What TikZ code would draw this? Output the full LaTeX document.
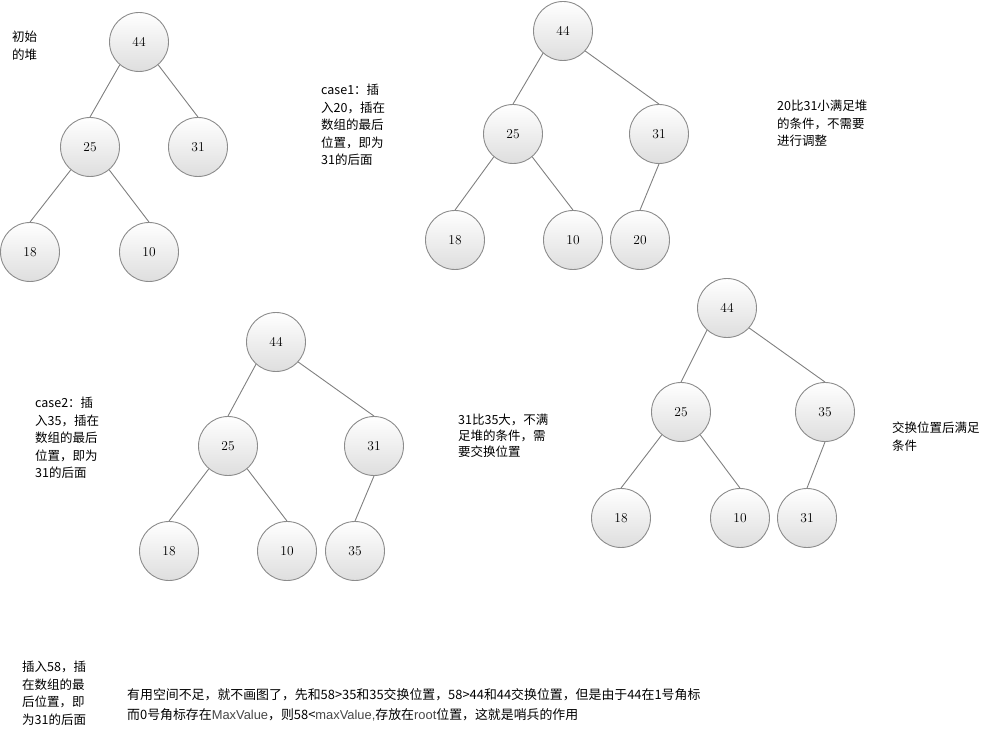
\documentclass[tikz,border=0pt]{standalone}
\usepackage{fontspec}
\newfontfamily\cjk{Noto Sans CJK SC}
\newfontfamily\lsans{Liberation Sans}
\definecolor{edgegray}{RGB}{128,128,128}
\definecolor{bordergray}{RGB}{140,140,140}
\definecolor{fillgray}{RGB}{222,222,222}
\definecolor{latgray}{RGB}{70,70,70}
\tikzset{
  hnode/.style={circle, minimum size=59pt, inner sep=0pt, draw=bordergray, line width=0.9pt,
    top color=white, bottom color=fillgray, font=\fontsize{13.5}{15}\selectfont},
  hedge/.style={draw=edgegray, line width=0.9pt},
  note/.style={anchor=north west, align=left, inner sep=0pt, font=\cjk\fontsize{12.5}{17.5}\selectfont},
}
\begin{document}
\begin{tikzpicture}[x=1pt,y=-1pt]
\useasboundingbox (0,0) rectangle (991,749);
% tree 1
\node[hnode] (a44) at (139,42) {44};
\node[hnode] (a25) at (90,147) {25};
\node[hnode] (a31) at (198,147) {31};
\node[hnode] (a18) at (30,252) {18};
\node[hnode] (a10) at (149,252) {10};
\draw[hedge] (a44.230) -- (a25.north);
\draw[hedge] (a44.310) -- (a31.north);
\draw[hedge] (a25.230) -- (a18.north);
\draw[hedge] (a25.310) -- (a10.north);
% tree 2
\node[hnode] (b44) at (563,31) {44};
\node[hnode] (b25) at (513,134) {25};
\node[hnode] (b31) at (659,134) {31};
\node[hnode] (b18) at (455,240) {18};
\node[hnode] (b10) at (573,240) {10};
\node[hnode] (b20) at (640,240) {20};
\draw[hedge] (b44.228) -- (b25.north);
\draw[hedge] (b44.318) -- (b31.north);
\draw[hedge] (b25.230) -- (b18.north);
\draw[hedge] (b25.310) -- (b10.north);
\draw[hedge] (b31.south) -- (b20.north);
% tree 3
\node[hnode] (c44) at (276,342) {44};
\node[hnode] (c25) at (228,446) {25};
\node[hnode] (c31) at (374,446) {31};
\node[hnode] (c18) at (169,551) {18};
\node[hnode] (c10) at (287,551) {10};
\node[hnode] (c35) at (355,551) {35};
\draw[hedge] (c44.228) -- (c25.north);
\draw[hedge] (c44.318) -- (c31.north);
\draw[hedge] (c25.230) -- (c18.north);
\draw[hedge] (c25.310) -- (c10.north);
\draw[hedge] (c31.south) -- (c35.north);
% tree 4
\node[hnode] (d44) at (727,308) {44};
\node[hnode] (d25) at (681,412) {25};
\node[hnode] (d35) at (825,412) {35};
\node[hnode] (d18) at (621,518) {18};
\node[hnode] (d10) at (740,518) {10};
\node[hnode] (d31) at (807,518) {31};
\draw[hedge] (d44.228) -- (d25.north);
\draw[hedge] (d44.318) -- (d35.north);
\draw[hedge] (d25.230) -- (d18.north);
\draw[hedge] (d25.310) -- (d10.north);
\draw[hedge] (d35.south) -- (d31.north);
% notes
\node[note] (n0) at (12,31) {初始\\的堆};
\node[note] (n1) at (321,84) {case1：插\\入20，插在\\数组的最后\\位置，即为\\31的后面};
\node[note] (n2) at (777,100) {20比31小满足堆\\的条件，不需要\\进行调整};
\node[note] (n3) at (35,397) {case2：插\\入35，插在\\数组的最后\\位置，即为\\31的后面};
\node[note, font=\cjk\fontsize{12.5}{16}\selectfont] (n4) at (458,414) {31比35大，不满\\足堆的条件，需\\要交换位置};
\node[note] (n5) at (892,422) {交换位置后满足\\条件};
\node[note] (n6) at (22,661) {插入58，插\\在数组的最\\后位置，即\\为31的后面};
\node[note, font=\cjk\fontsize{12.9}{20}\selectfont] (n7) at (127,688) {有用空间不足，就不画图了，先和58>35和35交换位置，58>44和44交换位置，但是由于44在1号角标\\而0号角标存在{\lsans\color{latgray}MaxValue}，则58<{\lsans\color{latgray}maxValue,}存放在{\lsans\color{latgray}root}位置，这就是哨兵的作用};
\end{tikzpicture}
\end{document}
